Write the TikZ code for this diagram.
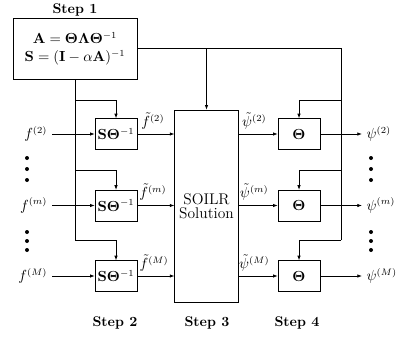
\documentclass[tikz,border=0pt]{standalone}
\usepackage{amsmath, amssymb, bm}
\usepackage{tikz}
\usetikzlibrary{positioning, arrows.meta}
\tikzset{
    blk/.style={draw, rectangle, minimum width=31.5pt, minimum height=23pt, inner sep=1pt, font=\fontsize{10.5}{13}\selectfont},
    topbox/.style={draw, rectangle, minimum width=93pt, minimum height=45.75pt, align=center, font=\fontsize{10.5}{13.5}\selectfont},
    solbox/.style={draw, rectangle, minimum width=47pt, minimum height=144pt, align=center, font=\fontsize{11.6}{10.5}\selectfont},
    steplbl/.style={font=\fontsize{10.5}{13}\selectfont\bfseries},
    sig/.style={font=\fontsize{10.5}{13}\selectfont},
    wire/.style={line width=0.6pt},
    link/.style={-{Latex[length=3.5pt, width=2.6pt]}, line width=0.6pt}
}

\begin{document}
\begin{tikzpicture}[x=0.75pt, y=-0.75pt]
\useasboundingbox (0,0) rectangle (396,339);

% --- Step 1 ---
\node[steplbl] (t1) at (75,10) {Step 1};
\node[topbox] (s1) at (75,48.5) {$\mathbf{A}=\bm{\Theta\Lambda\Theta}^{-1}$\\$\mathbf{S}=(\mathbf{I}-\alpha\mathbf{A})^{-1}$};

% --- Step 2 blocks ---
\node[blk] (l2) at (116,134) {$\mathbf{S}\bm{\Theta}^{-1}$};
\node[blk] (lm) at (116,205.5) {$\mathbf{S}\bm{\Theta}^{-1}$};
\node[blk] (lM) at (116,276) {$\mathbf{S}\bm{\Theta}^{-1}$};

% --- Step 3 ---
\node[solbox] (sol) at (206.5,206) {SOILR\\Solution};

% --- Step 4 blocks ---
\node[blk] (r2) at (299,134) {$\bm{\Theta}$};
\node[blk] (rm) at (299,205.5) {$\bm{\Theta}$};
\node[blk] (rM) at (299,276) {$\bm{\Theta}$};

% --- Inputs and outputs ---
\node[sig, anchor=east] (f2) at (52,134) {$f^{(2)}$};
\node[sig, anchor=east] (fm) at (52,205.5) {$f^{(m)}$};
\node[sig, anchor=east] (fM) at (52,276) {$f^{(M)}$};
\node[sig, anchor=west] (p2) at (362,134) {$\psi^{(2)}$};
\node[sig, anchor=west] (pm) at (362,205.5) {$\psi^{(m)}$};
\node[sig, anchor=west] (pM) at (362,276) {$\psi^{(M)}$};

% --- Step labels ---
\node[steplbl] (t2) at (115,323) {Step 2};
\node[steplbl] (t3) at (207,323) {Step 3};
\node[steplbl] (t4) at (297,323) {Step 4};

% --- Signal path ---
\draw[link] (f2) -- (l2);
\draw[link] (fm) -- (lm);
\draw[link] (fM) -- (lM);
\draw[link] (l2) -- (l2 -| sol.west) node[sig, pos=0.42, above] (ft2) {$\tilde f^{(2)}$};
\draw[link] (lm) -- (lm -| sol.west) node[sig, pos=0.42, above] (ftm) {$\tilde f^{(m)}$};
\draw[link] (lM) -- (lM -| sol.west) node[sig, pos=0.45, above] (ftM) {$\tilde f^{(M)}$};
\draw[link] (r2 -| sol.east) -- (r2) node[sig, pos=0.4, above] (pt2) {$\tilde\psi^{(2)}$};
\draw[link] (rm -| sol.east) -- (rm) node[sig, pos=0.4, above] (ptm) {$\tilde\psi^{(m)}$};
\draw[link] (rM -| sol.east) -- (rM) node[sig, pos=0.4, above] (ptM) {$\tilde\psi^{(M)}$};
\draw[link] (r2) -- (p2);
\draw[link] (rm) -- (pm);
\draw[link] (rM) -- (pM);

% --- Feed from Step 1 (left bus) ---
\coordinate (a2) at (75,100);
\coordinate (am) at (75,170);
\coordinate (aM) at (75,240);
\draw[wire] (s1.south) -- (aM);
\draw[link] (a2) -| (l2.north);
\draw[link] (am) -| (lm.north);
\draw[link] (aM) -| (lM.north);

% --- Feed from Step 1 (right bus) ---
\coordinate (b0) at (341,48.5);
\coordinate (b2) at (341,100);
\coordinate (bm) at (341,170);
\coordinate (bM) at (341,240);
\draw[wire] (s1.east) -- (b0) -- (bM);
\draw[link] (s1.east -| sol.north) -- (sol.north);
\draw[link] (b2) -| (r2.north);
\draw[link] (bm) -| (rm.north);
\draw[link] (bM) -| (rM.north);

% --- Ellipsis dots ---
\foreach \y in {158,169,180,232,241,250} {
    \fill (27,\y) circle (1.5pt);
    \fill (371,\y) circle (1.5pt);
}

\end{tikzpicture}
\end{document}
